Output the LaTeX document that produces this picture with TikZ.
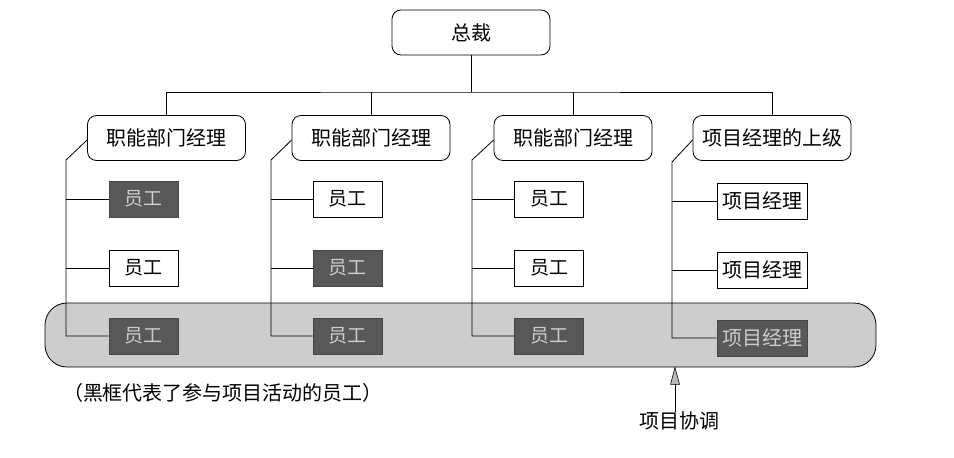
\documentclass[tikz,border=0pt]{standalone}
\usepackage{fontspec}
\newfontfamily\cjk{Noto Sans CJK SC}
\usetikzlibrary{arrows.meta}
\definecolor{darkfill}{RGB}{88,88,88}
\definecolor{darktext}{RGB}{205,205,205}
\definecolor{bandfill}{RGB}{205,205,205}
\tikzset{
  mgr/.style={draw, rounded corners=9pt, line width=0.8pt, minimum width=158pt, minimum height=45pt, inner sep=0pt, font=\cjk\fontsize{20}{20}\selectfont, fill=white},
  emp/.style={draw, line width=0.8pt, minimum width=69pt, minimum height=36pt, inner sep=0pt, font=\cjk\fontsize{19}{19}\selectfont, fill=white},
  pm/.style={emp, minimum width=90pt, font=\cjk\fontsize{20}{20}\selectfont},
  dark/.style={fill=darkfill, text=darktext, draw=darkfill!80!black},
  conn/.style={line width=0.8pt},
  lbl/.style={font=\cjk\fontsize{20}{20}\selectfont, inner sep=0pt},
  tiphead/.style={fill=gray!55, draw=black, line width=0.6pt, line join=miter},
}
\begin{document}
\begin{tikzpicture}[x=1pt,y=-1pt]
\useasboundingbox (0,0) rectangle (954,458);
% band
\node[draw, line width=0.8pt, fill=bandfill, rounded corners=22pt, minimum width=831pt, minimum height=64pt, inner sep=0pt] (band) at (460.5,335) {};
% ceo
\node[mgr] (ceo) at (471,32.5) {总裁};
% managers
\node[mgr] (m1) at (166.5,138) {职能部门经理};
\node[mgr] (m2) at (371,138) {职能部门经理};
\node[mgr] (m3) at (573,138) {职能部门经理};
\node[mgr] (m4) at (772,138) {项目经理的上级};
% employees
\node[emp,dark] (e11) at (143.5,199) {员工};
\node[emp] (e12) at (143.5,268) {员工};
\node[emp,dark] (e13) at (143.5,336) {员工};
\node[emp] (e21) at (347.5,199) {员工};
\node[emp,dark] (e22) at (347.5,268) {员工};
\node[emp,dark] (e23) at (347.5,336) {员工};
\node[emp] (e31) at (549,199) {员工};
\node[emp] (e32) at (549,268) {员工};
\node[emp,dark] (e33) at (549,336) {员工};
\node[pm] (e41) at (762,201) {项目经理};
\node[pm] (e42) at (762,270) {项目经理};
\node[pm,dark] (e43) at (762,338) {项目经理};
% top connectors
\coordinate (bus) at (471,92);
\draw[conn] (ceo.south) -- (bus);
\draw[conn] (m1.north) |- (bus) -| (m4.north);
\draw[conn] (m2.north) -- (m2.north |- bus);
\draw[conn] (m3.north) -- (m3.north |- bus);
% trunks
\coordinate (t1) at (66,160);
\coordinate (t2) at (271,160);
\coordinate (t3) at (472,160);
\coordinate (t4) at (672,162);
\foreach \c in {1,2,3,4}{
  \draw[conn] ([yshift=-2pt]m\c.west) -- (t\c) |- (e\c3.west);
  \draw[conn] (e\c1.west) -- (e\c1.west -| t\c);
  \draw[conn] (e\c2.west) -- (e\c2.west -| t\c);
}
% notes
\node[lbl] (note) at (223,393) {（黑框代表了参与项目活动的员工）};
\node[lbl] (coord) at (679,421) {项目协调};
\coordinate (tip) at (band.south -| 675,0);
\draw[conn] (coord.north -| 675,0) -- ([yshift=-15pt]tip);
\draw[tiphead] (tip) -- ++(-4.5,17) -- ++(9,0) -- cycle;
\end{tikzpicture}
\end{document}
